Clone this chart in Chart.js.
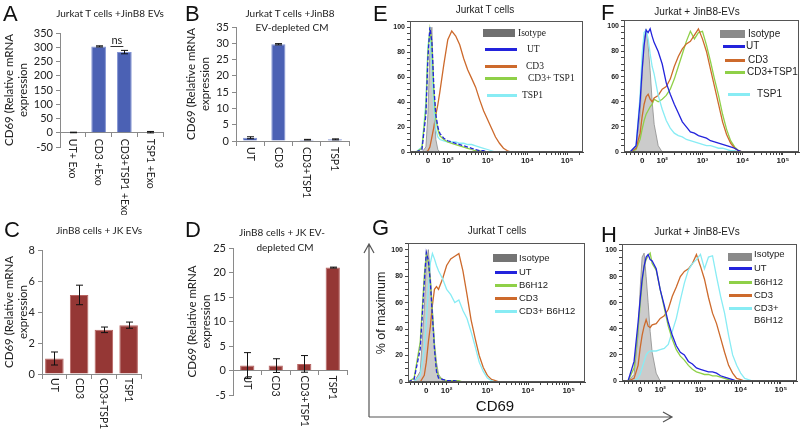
<!DOCTYPE html>
<html>
<head>
<meta charset="utf-8">
<script src="https://cdn.jsdelivr.net/npm/chart.js@4.4.0/dist/chart.umd.min.js"></script>
<style>
body { margin: 0; background: #fff; }
#fig { position: relative; width: 800px; height: 430px; overflow: hidden; font-family: Lato, sans-serif; color: #222; background: #fff; }
#fig canvas { position: absolute; }
.t { position: absolute; white-space: nowrap; transform: translate(-50%, -50%); line-height: 1; }
.l { position: absolute; white-space: pre; transform: translateY(-50%); line-height: 12px; }
.s { position: absolute; }
.letter { position: absolute; font: 22px "Liberation Sans", Arial, sans-serif; line-height: 1; color: #111; }
</style>
</head>
<body>
<div id="fig">
  <canvas id="cA" width="195" height="215" style="left:0;top:0"></canvas>
  <canvas id="cB" width="205" height="215" style="left:180px;top:0"></canvas>
  <canvas id="cC" width="195" height="215" style="left:0;top:215px"></canvas>
  <canvas id="cD" width="205" height="215" style="left:180px;top:215px"></canvas>
  <canvas id="cE" width="215" height="215" style="left:385px;top:0"></canvas>
  <canvas id="cF" width="200" height="215" style="left:600px;top:0"></canvas>
  <canvas id="cG" width="215" height="215" style="left:385px;top:215px"></canvas>
  <canvas id="cH" width="200" height="215" style="left:600px;top:215px"></canvas>
  <svg width="800" height="430" style="position:absolute;left:0;top:0;pointer-events:none">
    <path d="M369 417 V244 M364 253 L369 244 L374 253" stroke="#555" stroke-width="1.2" fill="none"/>
    <path d="M369 417 H672 M663 412 L672 417 L663 422" stroke="#555" stroke-width="1.2" fill="none"/>
    <text x="381" y="313" transform="rotate(-90 381 313)" text-anchor="middle" dominant-baseline="central" font-family="Liberation Sans, Arial" font-size="12.5" fill="#222">% of maximum</text>
    <text x="495" y="411" text-anchor="middle" font-family="Liberation Sans, Arial" font-size="15" fill="#111">CD69</text>
  </svg>
</div>
<script>
// ---- bar panels (qPCR) ----
const catA = ['UT+ Exo', 'CD3 +Exo', 'CD3+TSP1 +Exo', 'TSP1 +Exo'];
const valA = [1, 303, 283, 2];
const errA = [1, 2, 6, 2.5];
const catB = ['UT', 'CD3', 'CD3+TSP1', 'TSP1'];
const valB = [1, 29.7, 0.4, 0.5];
const errB = [0.3, 0.2, 0.1, 0.15];
const catC = ['UT', 'CD3', 'CD3+TSP1', 'TSP1'];
const valC = [1, 5.1, 2.85, 3.15];
const errC = [0.42, 0.63, 0.18, 0.2];
const catD = ['UT', 'CD3', 'CD3+TSP1', 'TSP1'];
const valD = [1, 1, 1.35, 21];
const errD = [2.65, 1.4, 1.7, 0.1];
const yTitle = ['CD69 (Relative mRNA', 'expression'];

// ---- flow histograms, x in display decades (0 at 1.5, 10^2 at 2 ...) ----
const flowX = [1.05, 1.2, 1.35, 1.45, 1.5, 1.55, 1.6, 1.65, 1.7, 1.75, 1.8, 1.9, 2.0, 2.1, 2.2, 2.3, 2.4, 2.5,
  2.6, 2.7, 2.8, 2.9, 3.0, 3.1, 3.2, 3.3, 3.4, 3.5, 3.6, 3.7, 3.8, 3.9, 4.0, 4.1, 4.3, 5.4];
const tickVals = [1.5, 2, 3, 4, 5];
const tickText = ['0', '10²', '10³', '10⁴', '10⁵'];

const eIso = [0,0,0,4,30,80,100,45,10,2, 0,0,0,0,0,0,0,0,0,0, 0,0,0,0,0,0,0,0,0,0, 0,0,0,0,0,0];
const eUT = [0,0,2,30,75,100,88,52,30,20, 15,11,9,8,7,6,5,4,3,2, 1,1,0,0,0,0,0,0,0,0, 0,0,0,0,0,0];
const eCD3 = [0,0,0,0,1,4,12,20,30,38, 48,70,90,97,93,86,75,66,59,52, 42,33,26,19,12,7,3,1,0,0, 0,0,0,0,0,0];
const eCD3TSP1 = [0,0,3,35,80,98,85,48,27,18, 13,10,8,7,6,5,4,3,2,1, 1,0,0,0,0,0,0,0,0,0, 0,0,0,0,0,0];
const eTSP1 = [0,0,4,40,85,96,70,35,18,12, 10,9,8,8,8,7,7,6,6,5, 4,3,2,1,0,0,0,0,0,0, 0,0,0,0,0,0];

const fIso = [0,0,5,30,60,90,98,85,65,40, 22,5,0,0,0,0,0,0,0,0, 0,0,0,0,0,0,0,0,0,0, 0,0,0,0,0,0];
const fUT = [0,0,5,40,65,85,97,95,98,92, 87,80,70,55,46,38,31,24,20,16, 15,13,12,11,9,8,7,6,5,4, 3,1,0,0,0,0];
const fCD3 = [0,0,3,15,28,38,44,46,42,40, 43,45,50,52,58,68,76,82,86,88, 93,98,90,80,66,52,38,24,14,7, 3,1,0,0,0,0];
const fCD3TSP1 = [0,0,2,10,18,25,30,33,36,38, 42,40,42,45,50,58,68,78,88,96, 90,95,96,85,72,58,45,30,18,9, 4,1,0,0,0,0];
const fTSP1 = [0,0,5,45,78,95,97,90,78,68, 62,45,34,25,19,15,13,12,10,9, 8,7,6,5,5,4,3,3,2,1, 1,0,0,0,0,0];

const gIso = [0,0,8,55,90,100,80,55,30,15, 6,1,0,0,0,0,0,0,0,0, 0,0,0,0,0,0,0,0,0,0, 0,0,0,0,0,0];
const gUT = [0,2,25,75,98,92,75,50,25,8, 3,2,1,1,1,0,0,0,0,0, 0,0,0,0,0,0,0,0,0,0, 0,0,0,0,0,0];
const gB6H12 = [0,3,30,80,97,90,76,52,27,10, 4,2,1,1,1,1,0,0,0,0, 0,0,0,0,0,0,0,0,0,0, 0,0,0,0,0,0];
const gCD3 = [0,0,0,5,15,30,42,58,70,72, 70,78,88,93,95,97,84,66,47,33, 20,11,5,2,1,0,0,0,0,0, 0,0,0,0,0,0];
const gCD3B6 = [0,0,5,25,45,70,90,97,93,88, 84,78,70,66,60,62,54,48,38,27, 15,8,3,1,0,0,0,0,0,0, 0,0,0,0,0,0];

const hIso = [0,0,5,35,70,95,98,80,60,38, 22,6,0,0,0,0,0,0,0,0, 0,0,0,0,0,0,0,0,0,0, 0,0,0,0,0,0];
const hUT = [0,0,15,45,62,78,88,95,97,93, 92,86,70,58,45,35,27,22,20,15, 13,10,9,8,7,7,6,4,3,2, 1,0,0,0,0,0];
const hB6H12 = [0,0,10,40,58,75,88,93,96,98, 90,85,70,56,42,32,24,19,16,12, 9,7,6,5,5,4,4,3,2,1, 0,0,0,0,0,0];
const hCD3 = [0,0,2,12,25,35,42,47,42,41, 43,44,48,50,55,65,72,80,84,86, 90,97,88,78,64,52,44,33,22,12, 6,2,1,0,0,0];
const hCD3B6 = [0,0,0,2,5,10,15,20,22,23, 23,23,24,25,28,38,48,62,75,85, 90,93,97,86,95,96,80,65,52,35, 20,12,6,2,0,0];

const legE = ['Isotype', 'UT', 'CD3', 'CD3+ TSP1', 'TSP1'];
const legF = ['Isotype', 'UT', 'CD3', 'CD3+TSP1', 'TSP1'];
const legG = ['Isotype', 'UT', 'B6H12', 'CD3', 'CD3+ B6H12'];
const legH = ['Isotype', 'UT', 'B6H12', 'CD3', 'CD3+\nB6H12'];

const cBlue = '#2323dc', cOrange = '#cd6a2c', cGreen = '#8fd048', cCyan = '#88ecf4';
const cIso = 'rgba(200,200,200,0.95)', cIsoLine = '#8c8c8c';
Chart.defaults.font.family = 'Lato';
Chart.defaults.color = '#222';

// error bars drawn through the scales
const errBars = {
  id: 'errbars',
  afterDatasetsDraw(chart, args, o) {
    if (!o || !o.err) return;
    const x = chart.scales.x, y = chart.scales.y, ctx = chart.ctx;
    const vals = chart.data.datasets[0].data;
    ctx.save();
    ctx.strokeStyle = '#111';
    ctx.lineWidth = 1;
    vals.forEach((v, i) => {
      const cx = Math.round(x.getPixelForValue(i)) + 0.5;
      const t = y.getPixelForValue(v + o.err[i]), b = y.getPixelForValue(v - o.err[i]);
      ctx.beginPath();
      ctx.moveTo(cx, t); ctx.lineTo(cx, b);
      ctx.moveTo(cx - 3.5, t); ctx.lineTo(cx + 3.5, t);
      ctx.moveTo(cx - 3.5, b); ctx.lineTo(cx + 3.5, b);
      ctx.stroke();
    });
    ctx.restore();
  }
};

// category labels turned 90 degrees clockwise, hanging under the zero line
const vLabels = {
  id: 'vlabels',
  afterDraw(chart, args, o) {
    const x = chart.scales.x, y = chart.scales.y, ctx = chart.ctx;
    const y0 = y.getPixelForValue(0) + o.gap;
    ctx.save();
    ctx.font = '10.5px Lato';
    ctx.fillStyle = '#222';
    ctx.textAlign = 'left';
    ctx.textBaseline = 'middle';
    chart.data.labels.forEach((t, i) => {
      ctx.save();
      ctx.translate(x.getPixelForValue(i), y0);
      ctx.rotate(Math.PI / 2);
      ctx.fillText(t, 0, 0);
      ctx.restore();
    });
    ctx.restore();
  }
};

const nsMark = {
  id: 'nsmark',
  afterDatasetsDraw(chart, args, o) {
    if (!o || !o.text) return;
    const x = chart.scales.x, y = chart.scales.y, ctx = chart.ctx;
    const x1 = x.getPixelForValue(o.from), x2 = x.getPixelForValue(o.to), yy = Math.round(y.getPixelForValue(o.at)) + 0.5;
    ctx.save();
    ctx.strokeStyle = '#333';
    ctx.beginPath(); ctx.moveTo(x1, yy); ctx.lineTo(x2, yy); ctx.stroke();
    ctx.fillStyle = '#222';
    ctx.font = '11px Lato';
    ctx.textAlign = 'center';
    ctx.textBaseline = 'bottom';
    ctx.fillText(o.text, (x1 + x2) / 2, yy - 1);
    ctx.restore();
  }
};

const boxPlug = {
  id: 'box',
  afterDraw(chart) {
    const a = chart.chartArea, ctx = chart.ctx;
    ctx.save();
    ctx.strokeStyle = '#555';
    ctx.lineWidth = 1;
    ctx.strokeRect(a.left + 0.5, a.top + 0.5, a.width - 1, a.height - 1);
    ctx.restore();
  }
};

function noPad(s) { s.paddingTop = 0; s.paddingBottom = 0; s.paddingLeft = 0; s.paddingRight = 0; }

function makeBar(id, cats, vals, errs, o) {
  return new Chart(document.getElementById(id), {
    type: 'bar',
    data: {
      labels: cats,
      datasets: [{ data: vals, backgroundColor: o.fill, borderColor: o.edge, borderWidth: 1,
        barPercentage: o.bar, categoryPercentage: 1 }]
    },
    options: {
      responsive: false, animation: false, events: [],
      layout: { padding: o.pad },
      plugins: { legend: { display: false }, tooltip: { enabled: false },
        errbars: { err: errs }, vlabels: { gap: o.gap }, nsmark: o.ns || {} },
      scales: {
        x: {
          position: { y: 0 },
          grid: { offset: true, drawOnChartArea: false, tickLength: 4, color: '#8a8a8a' },
          border: { color: '#8a8a8a' },
          ticks: { display: false },
          afterFit: noPad
        },
        y: {
          min: o.min, max: o.max,
          ticks: { stepSize: o.step, autoSkip: false, font: { size: 11 }, color: '#222', padding: 3 },
          grid: { drawOnChartArea: false, tickLength: 4, color: '#8a8a8a' },
          border: { color: '#8a8a8a' },
          title: { display: true, text: yTitle, font: { size: 11.5, lineHeight: 1.15 }, color: '#222', padding: { top: 2, bottom: 0 } },
          afterFit: s => { s.width = o.yw; noPad(s); }
        }
      }
    },
    plugins: [errBars, vLabels, nsMark]
  });
}

const blueFill = '#4b61b4', blueEdge = '#8092d2', redFill = '#953735', redEdge = '#b86461';
makeBar('cA', catA, valA, errA, { fill: blueFill, edge: blueEdge, bar: 0.57, min: -50, max: 350, step: 50,
  pad: { left: 1, top: 33, right: 32, bottom: 68 }, yw: 59, gap: 6,
  ns: { from: 1.46, to: 1.96, at: 305, text: 'ns' } });
makeBar('cB', catB, valB, errB, { fill: blueFill, edge: blueEdge, bar: 0.5, min: 0, max: 35, step: 5,
  pad: { left: 3, top: 27, right: 36, bottom: 74 }, yw: 53, gap: 6 });
makeBar('cC', catC, valC, errC, { fill: redFill, edge: redEdge, bar: 0.75, min: 0, max: 8, step: 2,
  pad: { left: 1, top: 35, right: 54, bottom: 56 }, yw: 41, gap: 4 });
makeBar('cD', catD, valD, errD, { fill: redFill, edge: redEdge, bar: 0.5, min: -5, max: 25, step: 5,
  pad: { left: 4, top: 33, right: 38, bottom: 35 }, yw: 49, gap: 5 });

// flow axis ticks (majors labelled, minors blank)
const xTicks = tickVals.slice();
for (let k = 1; k <= 9; k++) if (k !== 5) xTicks.push(1 + k / 10);
for (let n = 2; n <= 5; n++) for (let k = 2; k <= 9; k++) if (n + Math.log10(k) < 5.4) xTicks.push(n + Math.log10(k));
xTicks.sort((a, b) => a - b);
const yTicks = [];
for (let v = 0; v <= 105; v += 5) yTicks.push(v);

function series(y, color, extra) {
  return Object.assign({
    data: flowX.map((x, i) => ({ x: x, y: y[i] })),
    borderColor: color, borderWidth: 1.3, pointRadius: 0, tension: 0, fill: false
  }, extra || {});
}
function isoSeries(y) {
  return series(y, cIsoLine, { borderWidth: 0.8, fill: 'origin', backgroundColor: cIso });
}

function makeFlow(id, sets, o) {
  return new Chart(document.getElementById(id), {
    type: 'line',
    data: { datasets: sets },
    options: {
      responsive: false, animation: false, events: [],
      layout: { padding: o.pad },
      plugins: { legend: { display: false }, tooltip: { enabled: false } },
      scales: {
        x: {
          type: 'linear', min: 1.05, max: 5.4,
          afterBuildTicks: s => { s.ticks = xTicks.map(v => ({ value: v })); },
          ticks: { autoSkip: false, maxRotation: 0, padding: 1, color: '#222',
            font: { family: 'Liberation Sans', size: 8, weight: 'bold' },
            callback: v => { const k = tickVals.indexOf(v); return k < 0 ? '' : tickText[k]; } },
          grid: { drawOnChartArea: false, tickLength: 3, color: '#444' },
          border: { color: '#444' },
          afterFit: s => { s.height = 14; noPad(s); }
        },
        y: {
          min: 0, max: 105,
          afterBuildTicks: s => { s.ticks = yTicks.map(v => ({ value: v })); },
          ticks: { autoSkip: false, padding: 2, color: '#222',
            font: { family: 'Liberation Sans', size: 7, weight: 'bold' },
            callback: v => (v % 20 === 0 && v <= 100 ? String(v) : '') },
          grid: { drawOnChartArea: false, tickLength: 3, color: '#444' },
          border: { color: '#444' },
          afterFit: s => { s.width = o.yw; noPad(s); }
        }
      }
    },
    plugins: [boxPlug]
  });
}

makeFlow('cE', [series(eUT, cBlue, { borderDash: [4, 2] }), series(eCD3TSP1, cGreen), series(eTSP1, cCyan),
  series(eCD3, cOrange), isoSeries(eIso)],
  { pad: { left: 1, top: 21, right: 17, bottom: 49 }, yw: 24 });
makeFlow('cF', [series(fUT, cBlue), series(fTSP1, cCyan), series(fCD3, cOrange), series(fCD3TSP1, cGreen),
  isoSeries(fIso)],
  { pad: { left: 1, top: 20, right: 1, bottom: 49 }, yw: 23 });
makeFlow('cG', [series(gUT, cBlue, { borderDash: [4, 2] }), series(gB6H12, cGreen), series(gCD3B6, cCyan),
  series(gCD3, cOrange), isoSeries(gIso)],
  { pad: { left: 1, top: 28, right: 15, bottom: 34 }, yw: 22 });
makeFlow('cH', [series(hUT, cBlue), series(hB6H12, cGreen), series(hCD3B6, cCyan), series(hCD3, cOrange),
  isoSeries(hIso)],
  { pad: { left: 1, top: 29, right: 3, bottom: 35 }, yw: 21 });

// ---- text overlays ----
const fig = document.getElementById('fig');
function addText(t, x, y, css, cls) {
  const d = document.createElement('div');
  d.className = cls || 't';
  d.textContent = t;
  d.style.left = x + 'px';
  d.style.top = y + 'px';
  if (css) d.style.cssText += css;
  fig.appendChild(d);
}

const letters = [['A', 3, 3], ['B', 185, 3], ['C', 4, 219], ['D', 185, 219], ['E', 373, 3], ['F', 601, 2], ['G', 372, 217], ['H', 601, 224]];
letters.forEach(l => addText(l[0], l[1], l[2], '', 'letter'));

const barFont = ';font-size:10px;font-family:Lato,sans-serif';
addText('Jurkat T cells +JinB8 EVs', 110, 13, barFont);
addText('Jurkat T cells +JinB8', 290, 13, barFont);
addText('EV-depleted CM', 292, 27, barFont);
addText('JinB8 cells + JK EVs', 99, 230, barFont);
addText('JinB8 cells + JK EV-', 282, 232, barFont);
addText('depleted CM', 285, 247, barFont);

const flowFont = ';font-size:10px;font-family:"Liberation Sans",Arial,sans-serif';
addText('Jurkat T cells', 485, 10, flowFont);
addText('Jurkat + JinB8-EVs', 697, 12, flowFont);
addText('Jurkat T cells', 497, 231, flowFont);
addText('Jurkat + JinB8-EVs', 697, 232, flowFont);

function legend(names, colors, sp) {
  names.forEach((n, i) => {
    const h = i === 0 ? 8 : 3;
    const sw = document.createElement('div');
    sw.className = 's';
    sw.style.cssText = 'left:' + sp.sx[i] + 'px;top:' + (sp.y[i] - h / 2) + 'px;width:' + sp.sw[i] + 'px;height:' + h + 'px;background:' + colors[i];
    fig.appendChild(sw);
    addText(n, sp.lx[i], sp.ly ? sp.ly[i] : sp.y[i], sp.font, 'l');
  });
}
legend(legE, ['#707070', cBlue, cOrange, cGreen, cCyan], {
  sx: [483, 485, 485, 485, 487], sw: [32, 32, 32, 32, 30], y: [33, 49, 66, 78, 95],
  lx: [518, 527, 526, 528, 522], font: ';font-size:9.5px;font-family:"Liberation Serif",serif' });
legend(legF, ['#8a8a8a', cBlue, cOrange, cGreen, cCyan], {
  sx: [720, 723, 725, 725, 728], sw: [25, 22, 20, 20, 22], y: [34, 46, 60, 72, 94],
  lx: [748, 746, 748, 747, 757], font: flowFont });
legend(legG, ['#747474', cBlue, cGreen, cOrange, cCyan], {
  sx: [493, 495, 495, 495, 495], sw: [24, 22, 22, 22, 22], y: [258, 272, 285, 298, 311],
  lx: [519, 519, 519, 519, 519], font: ';font-size:9.5px;font-family:"Liberation Sans",Arial,sans-serif' });
legend(legH, ['#8a8a8a', cBlue, cGreen, cOrange, cCyan], {
  sx: [728, 729, 729, 729, 729], sw: [24, 23, 23, 23, 23], y: [257, 268, 282, 295, 308],
  ly: [254, 268, 282, 295, 314], lx: [754, 754, 754, 754, 754],
  font: ';font-size:9.5px;font-family:"Liberation Sans",Arial,sans-serif' });
</script>
</body>
</html>
